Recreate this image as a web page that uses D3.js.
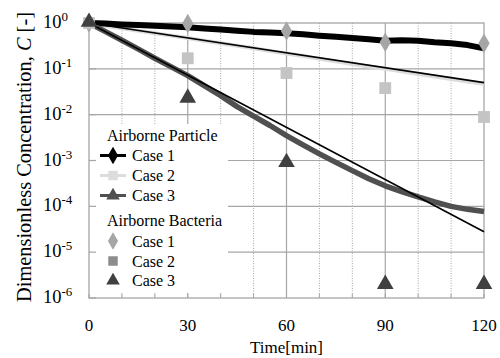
<!DOCTYPE html>
<html lang="en">
<head>
<meta charset="utf-8" />
<title>Dimensionless Concentration</title>
<style>
html, body {
	margin: 0;
	padding: 0;
	background: #fff;
}
svg {
	display: block;
	font-family: "Liberation Serif", "Times New Roman", serif;
}
</style>
</head>
<body>
<svg width="500" height="358"></svg>

<script src="https://cdn.jsdelivr.net/npm/d3@7/dist/d3.min.js"></script>
<script>

// time axis of the measured particle series [min]
var time = [0, 5, 10, 15, 20, 25, 30, 35, 40, 45, 50, 55, 60, 65, 70, 75, 80, 85, 90, 95, 100, 105, 110, 115, 120];

// airborne particle, measured
var particleCase1 = [1.00, 0.97, 0.93, 0.90, 0.87, 0.84, 0.81, 0.76, 0.72, 0.68, 0.64, 0.62, 0.60, 0.57, 0.53, 0.50, 0.47, 0.44, 0.41, 0.42, 0.41, 0.38, 0.36, 0.33, 0.28];
var particleCase2 = [1.00, 0.87, 0.77, 0.68, 0.60, 0.53, 0.47, 0.41, 0.36, 0.32, 0.28, 0.245, 0.215, 0.19, 0.165, 0.146, 0.128, 0.113, 0.100, 0.088, 0.077, 0.068, 0.060, 0.053, 0.047];
var particleCase3 = [1.00, 0.65, 0.42, 0.27, 0.17, 0.11, 0.071, 0.043, 0.026, 0.015, 0.0093, 0.0058, 0.0035, 0.0022, 0.0014, 0.00091, 0.0006, 0.0004, 0.00028, 0.00021, 0.00016, 0.000125, 0.0001, 0.000086, 0.000077];

// fitted lines (thin black)
var fitTime = [0, 120];
var fitCase2 = [1.0, 0.05];
var fitCase3 = [1.0, 0.000028];

// airborne bacteria, sampled
var bacteriaTime = [0, 30, 60, 90, 120];
var bacteriaCase1 = [1.0, 0.98, 0.67, 0.38, 0.36];
var bacteriaCase2 = [1.0, 0.17, 0.081, 0.038, 0.0089];
var bacteriaCase3 = [1.0, 0.022, 0.00087, 0.0000019, 0.0000019];

// axis ticks
var xTicks = [0, 30, 60, 90, 120];
var xMinorTicks = [10, 20, 40, 50, 70, 80, 100, 110];
var yExponents = [0, -1, -2, -3, -4, -5, -6];

var svg = d3.select('svg');

// plot area (note: "top" is reserved on window, so use a box object)
var box = { l: 89, r: 484, t: 23, b: 298 };

var x = d3.scaleLinear().domain([0, 120]).range([box.l, box.r]);
var y = d3.scaleLog().domain([1e-6, 1]).range([box.b, box.t]);

var gridColor = '#a6a6a6';

// grid
var grid = svg.append('g');
grid.selectAll('.hgrid').data(yExponents.slice(1, -1)).enter().append('line')
	.attr('x1', box.l).attr('x2', box.r)
	.attr('y1', function(d){ return y(Math.pow(10, d)); })
	.attr('y2', function(d){ return y(Math.pow(10, d)); })
	.attr('stroke', gridColor).attr('stroke-width', 1.2);
grid.selectAll('.vminor').data(xMinorTicks).enter().append('line')
	.attr('x1', function(d){ return x(d); }).attr('x2', function(d){ return x(d); })
	.attr('y1', box.t).attr('y2', box.b)
	.attr('stroke', gridColor).attr('stroke-width', 1)
	.attr('stroke-dasharray', '1,1.5');
grid.selectAll('.vmajor').data(xTicks.slice(1, -1)).enter().append('line')
	.attr('x1', function(d){ return x(d); }).attr('x2', function(d){ return x(d); })
	.attr('y1', box.t).attr('y2', box.b)
	.attr('stroke', gridColor).attr('stroke-width', 1.2);

// legend background covers the grid
svg.append('rect')
	.attr('x', 90).attr('y', 124)
	.attr('width', 138).attr('height', 169)
	.attr('fill', '#fff');

// frame
svg.append('rect')
	.attr('x', box.l).attr('y', box.t)
	.attr('width', box.r - box.l).attr('height', box.b - box.t)
	.attr('fill', 'none').attr('stroke', gridColor).attr('stroke-width', 1.3);

// inner ticks
svg.selectAll('.ytick').data(yExponents).enter().append('line')
	.attr('x1', box.l).attr('x2', box.l + 7)
	.attr('y1', function(d){ return y(Math.pow(10, d)); })
	.attr('y2', function(d){ return y(Math.pow(10, d)); })
	.attr('stroke', gridColor).attr('stroke-width', 1.2);
svg.selectAll('.xtick').data(xMinorTicks.concat(xTicks)).enter().append('line')
	.attr('x1', function(d){ return x(d); }).attr('x2', function(d){ return x(d); })
	.attr('y1', box.b).attr('y2', box.b - 4)
	.attr('stroke', gridColor).attr('stroke-width', 1);

var line = d3.line()
	.x(function(d){ return x(d[0]); })
	.y(function(d){ return y(d[1]); });

function pairs(t, v){ return t.map(function(d, i){ return [d, v[i]]; }); }

// measured particle series
var series = [
	{ v: particleCase2, color: '#dcdcdc', w: 4 },
	{ v: particleCase1, color: '#000', w: 6 },
	{ v: particleCase3, color: '#505050', w: 5.5 }
];
svg.selectAll('.series').data(series).enter().append('path')
	.attr('d', function(d){ return line(pairs(time, d.v)); })
	.attr('fill', 'none')
	.attr('stroke', function(d){ return d.color; })
	.attr('stroke-width', function(d){ return d.w; })
	.attr('stroke-linejoin', 'round');

// fitted lines
[fitCase2, fitCase3].forEach(function(f){
	svg.append('path')
		.attr('d', line(pairs(fitTime, f)))
		.attr('fill', 'none').attr('stroke', '#000').attr('stroke-width', 1.6);
});

// markers
var diamond = d3.symbol().type(d3.symbolDiamond);
var square = d3.symbol().type(d3.symbolSquare);
var triangle = d3.symbol().type(d3.symbolTriangle);

var bacteria = [
	{ v: bacteriaCase1, sym: diamond.size(110), color: '#a6a6a6' },
	{ v: bacteriaCase2, sym: square.size(140), color: '#c4c4c4' },
	{ v: bacteriaCase3, sym: triangle.size(120), color: '#404040' }
];
bacteria.forEach(function(s){
	svg.selectAll(null).data(pairs(bacteriaTime, s.v)).enter().append('path')
		.attr('d', s.sym())
		.attr('transform', function(d){ return 'translate(' + [x(d[0]), y(d[1]) - (s.sym === triangle ? 1 : 0)] + ')'; })
		.attr('fill', s.color);
});

// axis labels
svg.selectAll('.xlab').data(xTicks).enter().append('text')
	.attr('x', function(d){ return x(d); })
	.attr('y', 331)
	.attr('text-anchor', 'middle')
	.attr('font-size', 17)
	.text(function(d){ return d; });

var ylab = svg.selectAll('.ylab').data(yExponents).enter().append('text')
	.attr('x', 43)
	.attr('y', function(d){ return y(Math.pow(10, d)) + 5; })
	.attr('font-size', 18.5);
ylab.append('tspan').text('10');
ylab.append('tspan').attr('dy', -7).attr('font-size', 13).text(function(d){ return d === 0 ? '0' : '-' + (-d); });

svg.append('text')
	.attr('x', (box.l + box.r) / 2)
	.attr('y', 353)
	.attr('text-anchor', 'middle')
	.attr('font-size', 17)
	.text('Time[min]');

var ytitle = svg.append('text')
	.attr('transform', 'translate(31,157) rotate(-90)')
	.attr('text-anchor', 'middle')
	.attr('font-size', 20.4);
ytitle.append('tspan').text('Dimensionless Concentration, ');
ytitle.append('tspan').attr('font-style', 'italic').text('C');
ytitle.append('tspan').text(' [-]');

// legend
var legend = svg.append('g').attr('font-size', 16);
var rows = [
	{ label: 'Airborne Particle', y: 135.5, head: true },
	{ label: 'Case 1', y: 155.5, lineColor: '#000', sym: diamond.size(70), color: '#000' },
	{ label: 'Case 2', y: 175.5, lineColor: '#dcdcdc', sym: square.size(60), color: '#dcdcdc' },
	{ label: 'Case 3', y: 195.5, lineColor: '#505050', sym: triangle.size(60), color: '#505050' },
	{ label: 'Airborne Bacteria', y: 220.5, head: true },
	{ label: 'Case 1', y: 241, sym: diamond.size(90), color: '#a6a6a6' },
	{ label: 'Case 2', y: 261, sym: square.size(90), color: '#8c8c8c' },
	{ label: 'Case 3', y: 280.5, sym: triangle.size(80), color: '#404040' }
];
rows.forEach(function(r){
	legend.append('text')
		.attr('x', r.head ? 107 : 132)
		.attr('y', r.y + 5.5)
		.text(r.label);
	if (r.lineColor) {
		legend.append('line')
			.attr('x1', 100).attr('x2', 126)
			.attr('y1', r.y).attr('y2', r.y)
			.attr('stroke', r.lineColor).attr('stroke-width', 3);
	}
	if (r.sym) {
		legend.append('path')
			.attr('d', r.sym())
			.attr('transform', 'translate(' + [113, r.y] + ')')
			.attr('fill', r.color);
	}
});

</script>
</body>
</html>
